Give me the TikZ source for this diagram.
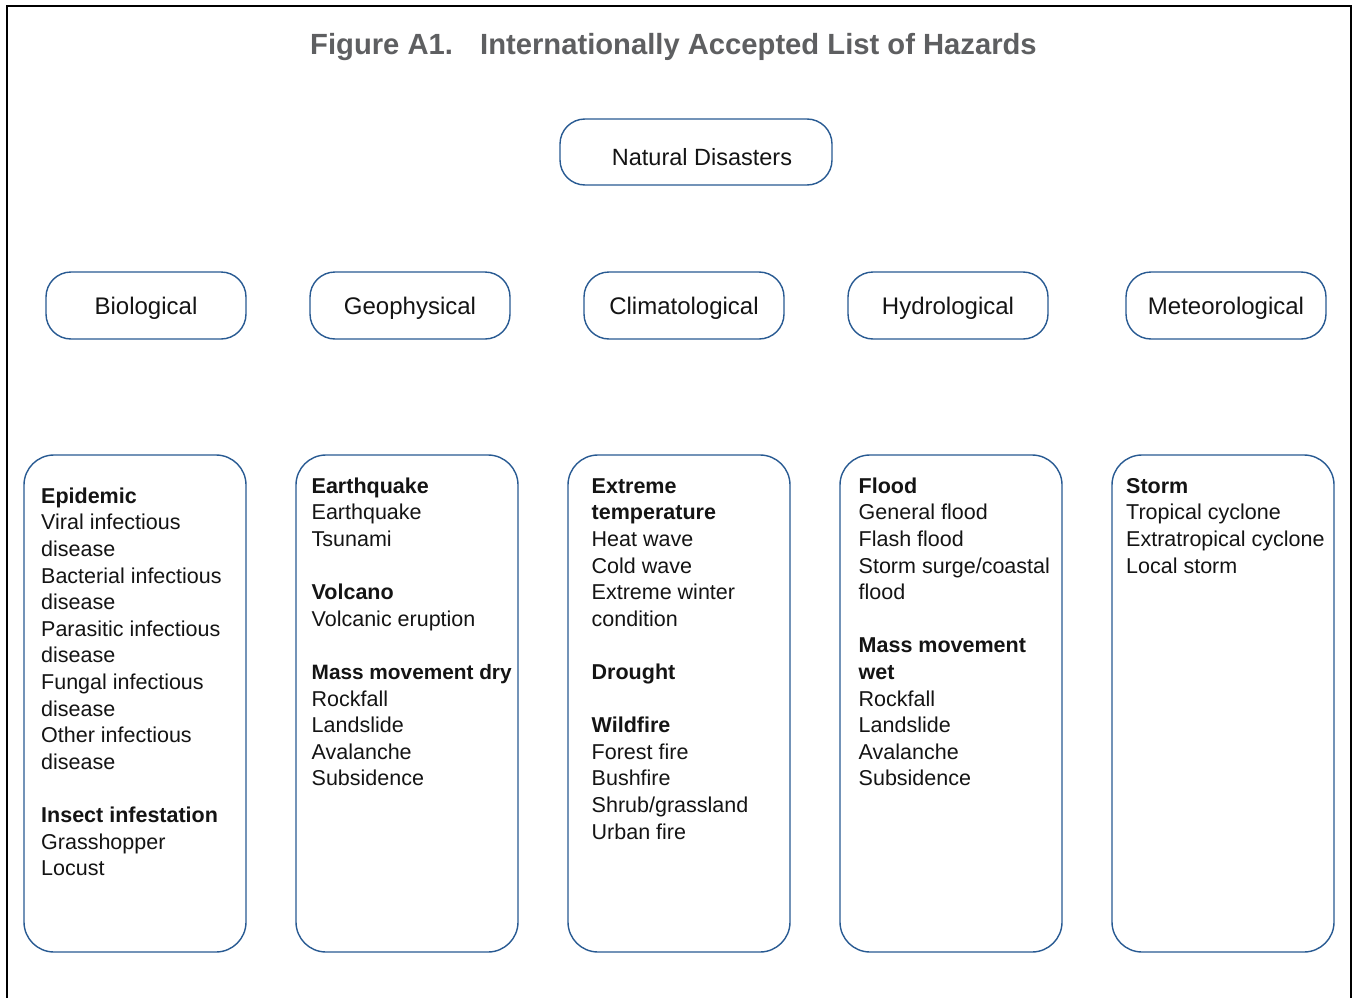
\documentclass[tikz,border=0pt]{standalone}
\usepackage{fontspec}
\setmainfont{Liberation Sans}
\definecolor{boxblue}{HTML}{285A92}
\definecolor{titlegray}{HTML}{5E5F61}
\definecolor{bodyink}{HTML}{141414}
\newcommand{\gapline}{\\[26.6pt]}
\begin{document}
\begin{tikzpicture}[x=1pt,y=-1pt,
  framestroke/.style={draw=black, line width=1.4pt},
  titletext/.style={anchor=base west, inner sep=0pt, text=titlegray,
    font=\fontsize{29.2}{34}\selectfont\bfseries},
  catbox/.style={draw=boxblue, line width=1.4pt, rounded corners=25pt,
    inner sep=0pt, minimum width=200pt, minimum height=67pt, text=bodyink,
    font=\fontsize{24}{28}\selectfont, text height=22pt, text depth=5pt},
  listbox/.style={draw=boxblue, line width=1.4pt, rounded corners=30pt,
    inner sep=0pt, minimum width=222pt, minimum height=497pt},
  listtext/.style={anchor=north west, inner sep=0pt, align=left, text=bodyink,
    font=\fontsize{21.5}{26.6}\selectfont},
]
% page and frame
\fill[white] (0,0) rectangle (1354,998);
\useasboundingbox (0,0) rectangle (1354,998);
\draw[framestroke] (7,998) -- (7,6) -- (1351,6) -- (1351,998);

% title
\node[titletext] (fig) at (310,55) {Figure A1.};
\node[titletext] (title) at (480,55) {Internationally Accepted List of Hazards};

% root
\node[catbox, minimum width=272pt, minimum height=66pt] (root) at (696,152) {};
\node[anchor=base, inner sep=0pt, text=bodyink, font=\fontsize{23.5}{28}\selectfont]
  (roottext) at (702,165.5) {Natural Disasters};

% hazard groups
\node[catbox] (bio)  at (146,305.5)  {Biological};
\node[catbox] (geo)  at (410,305.5)  {Geophysical};
\node[catbox] (clim) at (684,305.5)  {Climatological};
\node[catbox] (hyd)  at (948,305.5)  {Hydrological};
\node[catbox] (met)  at (1226,305.5) {Meteorological};

% hazard lists
\node[listbox] (biolist)  at (135,703.5)  {};
\node[listbox] (geolist)  at (407,703.5)  {};
\node[listbox] (climlist) at (679,703.5)  {};
\node[listbox] (hydlist)  at (951,703.5)  {};
\node[listbox] (metlist)  at (1223,703.5) {};

\node[listtext] (biotext) at (41,484.4) {\strut\textbf{Epidemic}\\Viral infectious\\disease\\
  Bacterial infectious\\disease\\Parasitic infectious\\disease\\Fungal infectious\\disease\\
  Other infectious\\disease\gapline\textbf{Insect infestation}\\Grasshopper\\Locust};

\node[listtext] (geotext) at (311.5,474.4) {\strut\textbf{Earthquake}\\Earthquake\\Tsunami\gapline
  \textbf{Volcano}\\Volcanic eruption\gapline
  \textbf{\fontsize{20.8}{26.6}\selectfont Mass movement dry}\\Rockfall\\Landslide\\Avalanche\\Subsidence};

\node[listtext] (climtext) at (591.5,474.4) {\strut\textbf{Extreme}\\\textbf{temperature}\\Heat wave\\
  Cold wave\\Extreme winter\\condition\gapline\textbf{Drought}\gapline
  \textbf{Wildfire}\\Forest fire\\Bushfire\\Shrub/grassland\\Urban fire};

\node[listtext] (hydtext) at (858.5,474.4) {\strut\textbf{Flood}\\General flood\\Flash flood\\
  Storm surge/coastal\\flood\gapline\textbf{Mass movement}\\\textbf{wet}\\
  Rockfall\\Landslide\\Avalanche\\Subsidence};

\node[listtext] (mettext) at (1126,474.4) {\strut\textbf{Storm}\\Tropical cyclone\\
  Extratropical cyclone\\Local storm};
\end{tikzpicture}
\end{document}
